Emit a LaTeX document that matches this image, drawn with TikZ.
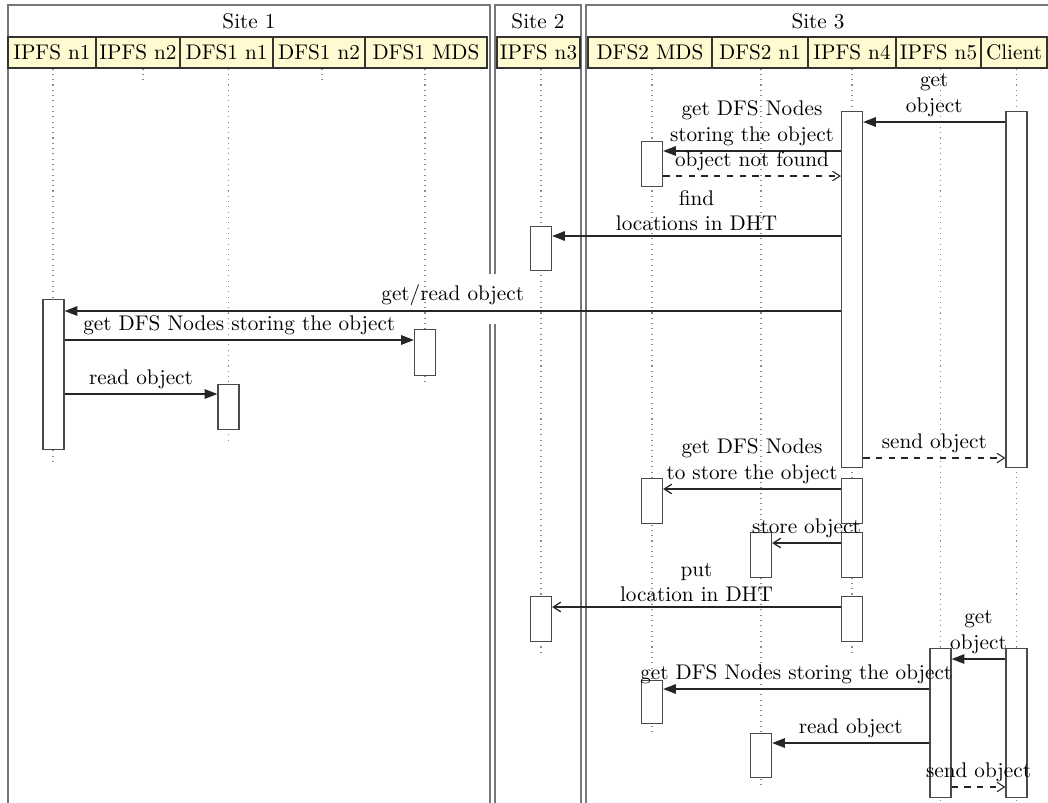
\documentclass[tikz,border=0pt]{standalone}
\usetikzlibrary{arrows.meta}
\definecolor{headfill}{HTML}{FFFAD0}
\definecolor{framegray}{HTML}{777777}
\definecolor{actgray}{HTML}{4A4A4A}
\definecolor{lifegray}{HTML}{8A8A8A}
\newdimen\pxu \pxu=0.4715pt
\newcommand{\headnode}[4]{\node[headbox,minimum width={(#3-#2)*\pxu}] (#1) at ({(#2+#3)/2},52.5) {#4};}
\newcommand{\actnode}[4]{\node[act,minimum height={(#4-#3)*\pxu}] (#1) at (#2,#3) {};}
\begin{document}
\begin{tikzpicture}[x=0.4715pt,y=-0.4715pt,
  frame/.style={draw=framegray,line width=0.6pt},
  headbox/.style={draw=black!80,fill=headfill,line width=0.5pt,inner sep=0pt,minimum height=31\pxu},
  sitetitle/.style={inner sep=0pt},
  lifeline/.style={draw=lifegray,dotted,line width=0.5pt},
  act/.style={draw=actgray,fill=white,line width=0.6pt,minimum width=21\pxu,inner sep=0pt,anchor=north},
  callmsg/.style={draw=black!85,line width=0.6pt,-{Triangle[length=6pt,width=4.5pt]}},
  replymsg/.style={draw=black!85,line width=0.5pt,dashed,-{Straight Barb[length=3.5pt,width=4.5pt]}},
  openmsg/.style={draw=black!85,line width=0.6pt,-{Straight Barb[length=3.5pt,width=4.5pt]}},
  lbl/.style={inner sep=2.2pt,align=center}
]
\useasboundingbox (0,0) rectangle (1048,802);

% frames
\draw[frame] (8,812) -- (8,5) -- (490,5) -- (490,274);
\draw[frame] (490,324) -- (490,812);
\draw[frame] (495,274) -- (495,5) -- (581,5) -- (581,812);
\draw[frame] (495,324) -- (495,812);
\draw[frame] (586,812) -- (586,5) -- (1053,5) -- (1053,812);

% titles
\node[sitetitle] (t1) at (249,21) {Site 1};
\node[sitetitle] (t2) at (538,21) {Site 2};
\node[sitetitle] (t3) at (818,21) {Site 3};

% heads
\headnode{h1}{8}{96}{IPFS n1}
\headnode{h2}{96}{180}{IPFS n2}
\headnode{h3}{180}{273}{DFS1 n1}
\headnode{h4}{273}{365}{DFS1 n2}
\headnode{h5}{365}{487}{DFS1 MDS}
\headnode{h6}{497}{580}{IPFS n3}
\headnode{h7}{588}{712}{DFS2 MDS}
\headnode{h8}{712}{808}{DFS2 n1}
\headnode{h9}{808}{896}{IPFS n4}
\headnode{h10}{896}{981}{IPFS n5}
\headnode{h11}{981}{1047}{Client}

% lifelines
\coordinate (e1) at (53,462);
\coordinate (e2) at (143,80);
\coordinate (e3) at (228.5,440);
\coordinate (e4) at (322,80);
\coordinate (e5) at (425,386);
\coordinate (e6) at (541,655);
\coordinate (e7) at (652,735);
\coordinate (e8) at (761,788);
\coordinate (e9) at (852,652);
\coordinate (e10) at (940.5,802);
\coordinate (e11) at (1016.5,802);
\draw[lifeline] (e1 |- h1.south) -- (e1);
\draw[lifeline] (e2 |- h2.south) -- (e2);
\draw[lifeline] (e3 |- h3.south) -- (e3);
\draw[lifeline] (e4 |- h4.south) -- (e4);
\draw[lifeline] (e5 |- h5.south) -- (e5);
\draw[lifeline] (e6 |- h6.south) -- (e6);
\draw[lifeline] (e7 |- h7.south) -- (e7);
\draw[lifeline] (e8 |- h8.south) -- (e8);
\draw[lifeline] (e9 |- h9.south) -- (e9);
\draw[lifeline] (e10 |- h10.south) -- (e10);
\draw[lifeline] (e11 |- h11.south) -- (e11);

% activations
\actnode{n4a}{852}{111}{467}
\actnode{cla}{1016.5}{111}{467}
\actnode{mdsa}{652}{141}{186}
\actnode{n3a}{541}{226}{270}
\actnode{n1a}{53.5}{299}{449}
\actnode{mdsb}{425}{329}{375}
\actnode{dfa}{228.5}{384}{429}
\actnode{n4b}{852}{478}{523}
\actnode{mdsc}{652}{478}{523}
\actnode{n4c}{852}{532}{577}
\actnode{dfb}{761}{532}{577}
\actnode{n4d}{852}{596}{641}
\actnode{n3b}{541}{596}{641}
\actnode{n5a}{940.5}{648}{797}
\actnode{clb}{1016.5}{648}{797}
\actnode{mdsd}{652}{680}{723}
\actnode{dfc}{761}{733}{777}

% messages
\draw[callmsg] (cla.west |- 0,122) -- (n4a.east |- 0,122)
  node[midway,above,lbl] {get\\object};
\draw[callmsg] (n4a.west |- 0,151) -- (mdsa.east |- 0,151)
  node[midway,above,lbl] {get DFS Nodes\\storing the object};
\draw[replymsg] (mdsa.east |- 0,176) -- (n4a.west |- 0,176)
  node[midway,above,lbl] {object not found};
\draw[callmsg] (n4a.west |- 0,236) -- (n3a.east |- 0,236)
  node[midway,above,lbl] {find\\locations in DHT};
\draw[callmsg] (n4a.west |- 0,311) -- (n1a.east |- 0,311)
  node[midway,above,lbl] {get/read object};
\draw[callmsg] (n1a.east |- 0,340) -- (mdsb.west |- 0,340)
  node[midway,above,lbl] {get DFS Nodes storing the object};
\draw[callmsg] (n1a.east |- 0,394) -- (dfa.west |- 0,394)
  node[midway,above,lbl] {read object};
\draw[replymsg] (n4a.east |- 0,458) -- (cla.west |- 0,458)
  node[midway,above,lbl] {send object};
\draw[openmsg] (n4b.west |- 0,489) -- (mdsc.east |- 0,489)
  node[midway,above,lbl] {get DFS Nodes\\to store the object};
\draw[openmsg] (n4c.west |- 0,543) -- (dfb.east |- 0,543)
  node[midway,above,lbl] {store object};
\draw[openmsg] (n4d.west |- 0,607) -- (n3b.east |- 0,607)
  node[midway,above,lbl] {put\\location in DHT};
\draw[callmsg] (clb.west |- 0,659) -- (n5a.east |- 0,659)
  node[midway,above,lbl] {get\\object};
\draw[callmsg] (n5a.west |- 0,689) -- (mdsd.east |- 0,689)
  node[midway,above,lbl] {get DFS Nodes storing the object};
\draw[callmsg] (n5a.west |- 0,743) -- (dfc.east |- 0,743)
  node[midway,above,lbl] {read object};
\draw[replymsg] (n5a.east |- 0,787) -- (clb.west |- 0,787)
  node[midway,above,lbl] {send object};
\end{tikzpicture}
\end{document}
